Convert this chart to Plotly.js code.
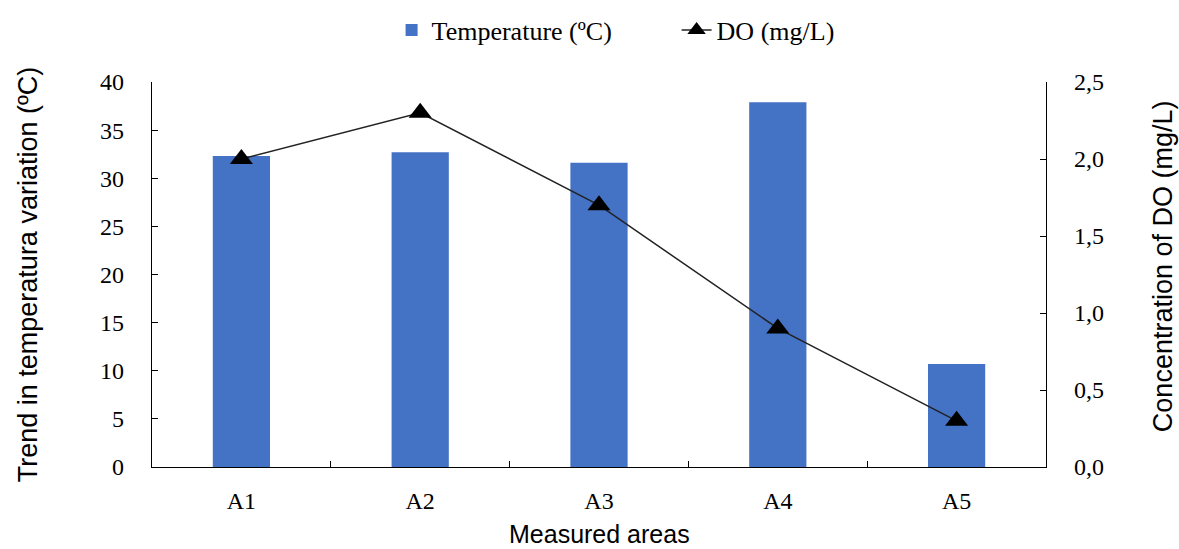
<!DOCTYPE html>
<html><head><meta charset="utf-8">
<script src="https://cdn.plot.ly/plotly-3.0.1.min.js"></script>
<style>html,body{margin:0;padding:0;background:#fff}</style>
</head><body>
<div id="chart" style="width:1179px;height:549px"></div>
<script>
const categories = ["A1","A2","A3","A4","A5"];
const temperature = [32.3, 32.7, 31.6, 37.9, 10.7];
const dissolvedOxygen = [2.0, 2.3, 1.7, 0.9, 0.3];
const tempTicks = [0,5,10,15,20,25,30,35,40];
const doTicks = [0,0.5,1,1.5,2,2.5];

const serif = "Liberation Serif, Times New Roman, serif";
const sans = "Liberation Sans, Arial, sans-serif";

const traces = [
  {type:"bar", x:categories, y:temperature, name:"Temperature (ºC)",
   marker:{color:"#4472C4"}, yaxis:"y"},
  {type:"scatter", mode:"lines+markers", x:categories, y:dissolvedOxygen, name:"DO (mg/L)",
   line:{color:"#222", width:1.5}, marker:{symbol:"triangle-up", size:20, color:"#000"}, yaxis:"y2"}
];

const layout = {
  width:1179, height:549,
  margin:{l:152, r:133, t:82, b:82, autoexpand:false},
  paper_bgcolor:"#fff", plot_bgcolor:"#fff",
  separators:",.",
  bargap:0.68,
  showlegend:true,
  legend:{orientation:"h", xref:"paper", x:0.268, xanchor:"left",
          yref:"container", y:0.945, yanchor:"middle",
          entrywidth:240, entrywidthmode:"pixels",
          font:{family:serif, size:26, color:"#000"}, traceorder:"normal"},
  xaxis:{type:"category", showline:true, linecolor:"#000", linewidth:1.2,
         ticks:"inside", tickson:"boundaries", ticklen:6, tickcolor:"#000",
         ticklabelstandoff:12,
         tickfont:{family:serif, size:24, color:"#000"}, showgrid:false, zeroline:false},
  yaxis:{range:[0,40], tickvals:tempTicks, showline:true, linecolor:"#000", linewidth:1.2,
         ticks:"inside", ticklen:6, tickcolor:"#000", showgrid:false, zeroline:false,
         ticklabelstandoff:22,
         tickfont:{family:serif, size:24, color:"#000"}},
  yaxis2:{range:[0,2.5], tickvals:doTicks, tickformat:".1f", overlaying:"y", side:"right",
          showline:true, linecolor:"#000", linewidth:1.2, ticks:"inside", ticklen:6, tickcolor:"#000",
          ticklabelstandoff:22,
          showgrid:false, zeroline:false, tickfont:{family:serif, size:24, color:"#000"}},
  annotations:[
    {text:"Measured areas", xref:"paper", yref:"paper", x:0.5, y:-0.174, xanchor:"center", yanchor:"middle",
     showarrow:false, font:{family:sans, size:25, color:"#000"}},
    {text:"Trend in temperatura variation (ºC)", xref:"paper", yref:"paper", x:-0.139, y:0.5,
     xanchor:"center", yanchor:"middle", textangle:-90, showarrow:false, font:{family:sans, size:27, color:"#000"}},
    {text:"Concentration of DO (mg/L)", xref:"paper", yref:"paper", x:1.131, y:0.522,
     xanchor:"center", yanchor:"middle", textangle:-90, showarrow:false, font:{family:sans, size:27, color:"#000"}}
  ]
};

Plotly.newPlot("chart", traces, layout, {displayModeBar:false, staticPlot:true});
</script>
</body></html>
